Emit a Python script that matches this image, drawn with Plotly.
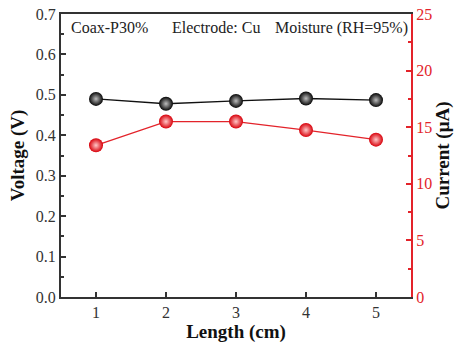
import plotly.graph_objects as go

# Measured data
length_cm = [1, 2, 3, 4, 5]
voltage_v = [0.490, 0.478, 0.485, 0.491, 0.487]
current_ua = [13.4, 15.5, 15.5, 14.75, 13.9]

x_ticks = [1, 2, 3, 4, 5]
labels = ["Coax-P30%", "Electrode: Cu", "Moisture (RH=95%)"]

RED = "#e3232a"
AXIS = "#333333"
FONT = "Liberation Serif, Times New Roman, serif"

fig = go.Figure()

fig.add_trace(go.Scatter(
    x=length_cm, y=voltage_v, mode="lines+markers",
    line=dict(color="#111111", width=1.3),
    marker=dict(size=14, color="#050505",
                gradient=dict(type="radial", color="#bdbdbd"),
                line=dict(width=0)),
    showlegend=False,
))
fig.add_trace(go.Scatter(
    x=length_cm, y=current_ua, mode="lines+markers", yaxis="y2",
    line=dict(color=RED, width=1.3),
    marker=dict(size=14, color="#d8000a",
                gradient=dict(type="radial", color="#ffc8c8"),
                line=dict(width=0)),
    showlegend=False,
))

ann_x = [0.023, 0.31, 0.605]
annotations = [
    dict(text=t, x=x, y=0.99, xref="paper", yref="paper",
         xanchor="left", yanchor="top", showarrow=False,
         font=dict(family=FONT, size=16, color="#222222"))
    for t, x in zip(labels, ann_x)
]

fig.update_layout(
    width=456, height=343,
    margin=dict(l=61, r=45, t=14, b=46),
    plot_bgcolor="white", paper_bgcolor="white",
    font=dict(family=FONT, size=16, color=AXIS),
    annotations=annotations,
    xaxis=dict(
        range=[0.5, 5.5], tickvals=x_ticks, ticks="inside", ticklen=5,
        tickwidth=1.5, tickcolor=AXIS, showline=True, linecolor=AXIS,
        linewidth=2, mirror=True, showgrid=False, zeroline=False,
        automargin=False,
        tickfont=dict(family=FONT, size=16, color=AXIS),
        title=dict(text="<b>Length (cm)</b>", standoff=2,
                   font=dict(family=FONT, size=19, color="#111111")),
    ),
    yaxis=dict(
        range=[0, 0.7], dtick=0.1, tickformat=".1f", ticks="inside",
        ticklen=5, tickwidth=1.5, tickcolor=AXIS, showline=True,
        linecolor=AXIS, linewidth=2, showgrid=False, zeroline=False,
        automargin=False,
        minor=dict(dtick=0.05, ticks="inside", ticklen=3, tickcolor=AXIS),
        tickfont=dict(family=FONT, size=16, color=AXIS),
        title=dict(text="<b>Voltage (V)</b>", standoff=6,
                   font=dict(family=FONT, size=19, color="#111111")),
    ),
    yaxis2=dict(
        range=[0, 25], dtick=5, overlaying="y", side="right",
        ticks="inside", ticklen=5, tickwidth=1.5, tickcolor=RED,
        showline=True, linecolor=RED, linewidth=2, showgrid=False,
        zeroline=False, automargin=False,
        minor=dict(dtick=2.5, ticks="inside", ticklen=3, tickcolor=RED),
        tickfont=dict(family=FONT, size=16, color=RED),
        title=dict(text="<b>Current (μA)</b>", standoff=4,
                   font=dict(family=FONT, size=19, color="#111111")),
    ),
)

fig.write_html("out.html")
